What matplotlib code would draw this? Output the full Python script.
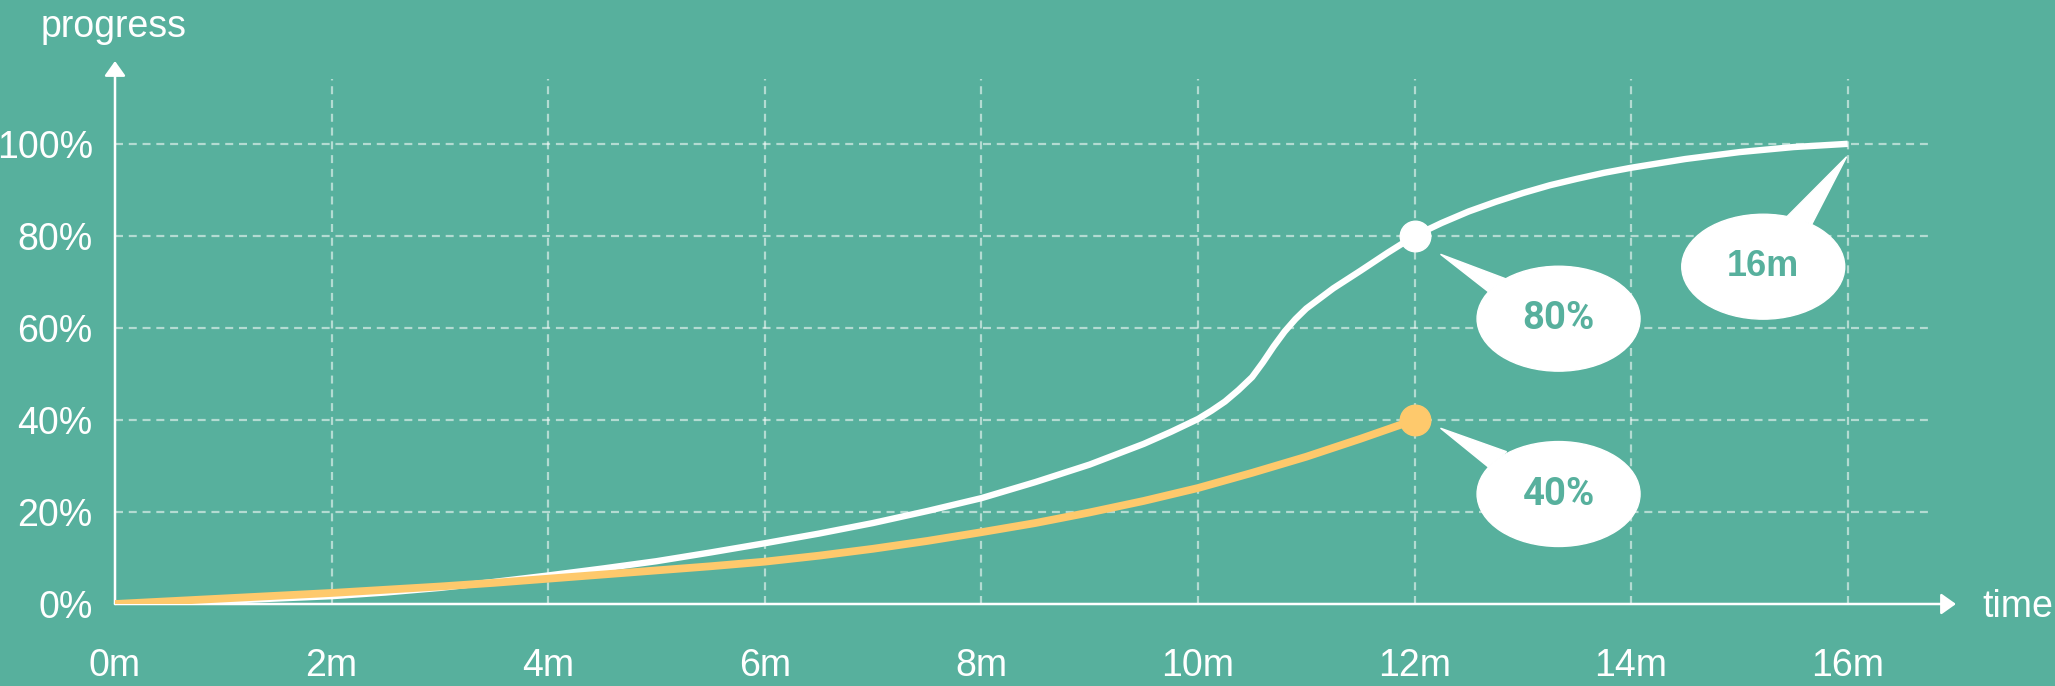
import matplotlib.pyplot as plt
from matplotlib.patches import Ellipse, Polygon

# progress curves (minutes, percent)
time_total = [0, 0.5, 1, 1.5, 2, 2.5, 3, 3.5, 4, 4.5, 5, 5.5, 6, 6.5, 7, 7.5, 8, 8.5,
              9, 9.5, 9.75, 10, 10.125, 10.25, 10.375, 10.5, 10.6, 10.7, 10.8, 10.9, 11,
              11.25, 11.5, 11.75, 12, 12.25, 12.5, 12.75, 13, 13.25, 13.5, 13.75, 14,
              14.5, 15, 15.5, 16]
progress_total = [0, 0.3, 0.7, 1.2, 1.7, 2.5, 3.5, 4.8, 6.2, 7.7, 9.3, 11.2, 13.2, 15.3,
                  17.6, 20.2, 23.0, 26.5, 30.3, 34.8, 37.4, 40.2, 42.0, 44.0, 46.5, 49.3,
                  52.5, 56.0, 59.2, 61.9, 64.2, 68.6, 72.4, 76.3, 80, 82.8, 85.3, 87.4,
                  89.3, 91.0, 92.4, 93.7, 94.8, 96.7, 98.2, 99.3, 100]
time_current = [0, 0.5, 1, 1.5, 2, 2.5, 3, 3.5, 4, 4.5, 5, 5.5, 6, 6.5, 7, 7.5, 8, 8.5,
                9, 9.5, 10, 10.5, 11, 11.5, 12]
progress_current = [0, 0.6, 1.2, 1.8, 2.4, 3.1, 3.8, 4.6, 5.5, 6.4, 7.3, 8.2, 9.2, 10.5,
                    12.0, 13.7, 15.6, 17.6, 19.9, 22.4, 25.2, 28.5, 32.0, 35.9, 40]

x_ticks = [0, 2, 4, 6, 8, 10, 12, 14, 16]
x_labels = ["0m", "2m", "4m", "6m", "8m", "10m", "12m", "14m", "16m"]
y_ticks = [0, 20, 40, 60, 80, 100]
y_labels = ["0%", "20%", "40%", "60%", "80%", "100%"]

BG = "#57b09d"
ORANGE = "#fec96c"
WHITE = "white"

fig = plt.figure(figsize=(20.55, 6.86), dpi=100, facecolor=BG)
ax = fig.add_axes([115 / 2055, 82 / 686, 1841 / 2055, 543 / 686])
ax.set_facecolor(BG)
ax.set_xlim(0, 17)
ax.set_ylim(0, 118)
for s in ax.spines.values():
    s.set_visible(False)

# dashed grid
grid_kw = dict(color=WHITE, alpha=0.55, lw=1.6, linestyles=(0, (3.6, 2.6)), zorder=1)
ax.hlines(y_ticks[1:], 0, 16.75, **grid_kw)
ax.vlines(x_ticks[1:], 0, 114, **grid_kw)

# axes with arrow heads
arrow = dict(arrowstyle="-|>,head_length=0.45,head_width=0.32", color=WHITE, lw=1.8,
             mutation_scale=20, shrinkA=0, shrinkB=0)
ax.annotate("", xy=(17, 0), xytext=(0, 0), arrowprops=arrow, zorder=2)
ax.annotate("", xy=(0, 118), xytext=(0, 0), arrowprops=arrow, zorder=2)

ax.set_xticks(x_ticks, x_labels)
ax.set_yticks(y_ticks, y_labels)
ax.tick_params(length=0, colors=WHITE, labelsize=27)
ax.tick_params(axis="x", pad=32)
ax.tick_params(axis="y", pad=16)
for lab in ax.get_xticklabels() + ax.get_yticklabels():
    lab.set_fontfamily("Liberation Sans")

fig.text(114 / 2055, 1 - 27 / 686, "progress", color=WHITE, fontsize=27,
         family="Liberation Sans", ha="center", va="center")
fig.text(1982 / 2055, 1 - 607 / 686, "time", color=WHITE, fontsize=27,
         family="Liberation Sans", ha="left", va="center")

# lines
ax.plot(time_total, progress_total, color=WHITE, lw=4.6, solid_capstyle="butt",
        solid_joinstyle="round", zorder=3)
ax.plot(time_current, progress_current, color=ORANGE, lw=5.6, solid_capstyle="butt",
        solid_joinstyle="round", zorder=4)
ax.plot(time_total[34], progress_total[34], "o", color=WHITE, ms=22, zorder=5)
ax.plot(time_current[-1], progress_current[-1], "o", color=ORANGE, ms=22, zorder=5)


def bubble(point, text, center_off, tip_off, base1, base2, font, size):
    px, py = point
    cx, cy = px + center_off[0], py + center_off[1]
    ax.add_patch(Ellipse((cx, cy), 1.505, 22.8, color=WHITE, zorder=6))
    tail = [(px + tip_off[0], py + tip_off[1]),
            (cx + base1[0], cy + base1[1]),
            (cx + base2[0], cy + base2[1])]
    ax.add_patch(Polygon(tail, closed=True, color=WHITE, zorder=6))
    ax.text(cx, cy, text, color=BG, fontsize=size, fontweight="bold", family=font,
            ha="center", va="center", zorder=7)


bubble((time_total[34], progress_total[34]), "80%", (1.33, -18), (0.24, -4),
       (-0.48, 8.6), (-0.65, 5.9), "Roboto", 27.5)
bubble((time_current[-1], progress_current[-1]), "40%", (1.33, -16.1), (0.24, -1.8),
       (-0.48, 9.2), (-0.65, 5.9), "Roboto", 27.5)
bubble((time_total[-1], progress_total[-1]), "16m", (-0.78, -26.7), (-0.01, -2.8),
       (0.22, 10.9), (0.45, 9.3), "Liberation Sans", 26)

fig.savefig("out.png", dpi=100, facecolor=BG)
